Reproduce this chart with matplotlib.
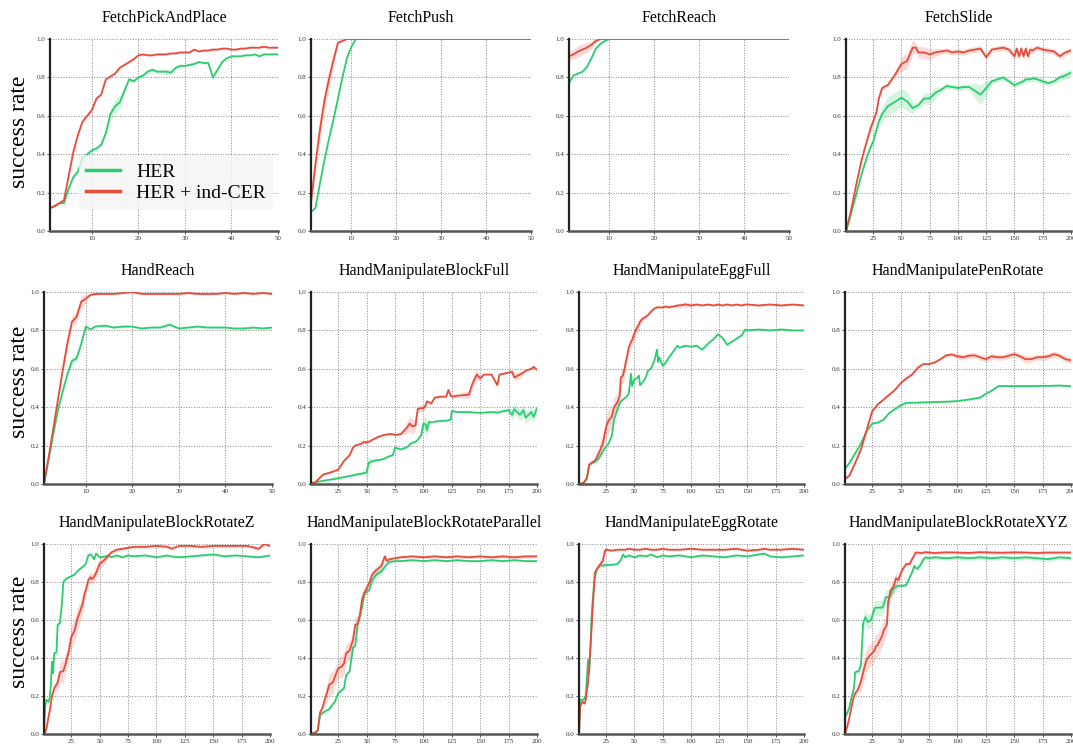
import matplotlib
matplotlib.use('Agg')
import numpy as np
import matplotlib.pyplot as plt

plt.rcParams['font.family'] = ['Liberation Serif', 'DejaVu Serif']

GREEN = '#2ecc71'
RED = '#e74c3c'

titles = ['FetchPickAndPlace', 'FetchPush', 'FetchReach', 'FetchSlide',
          'HandReach', 'HandManipulateBlockFull', 'HandManipulateEggFull', 'HandManipulatePenRotate',
          'HandManipulateBlockRotateZ', 'HandManipulateBlockRotateParallel', 'HandManipulateEggRotate',
          'HandManipulateBlockRotateXYZ']
labels = ['HER', 'HER + ind-CER']

# ---- FetchPickAndPlace
x1 = list(range(1, 51))
her1 = [0.12, 0.13, 0.145, 0.145, 0.22, 0.28, 0.31, 0.38, 0.40, 0.42,
        0.43, 0.45, 0.51, 0.61, 0.65, 0.67, 0.73, 0.79, 0.78, 0.80,
        0.81, 0.83, 0.84, 0.83, 0.83, 0.83, 0.825, 0.85, 0.86, 0.86,
        0.865, 0.87, 0.88, 0.875, 0.875, 0.80, 0.84, 0.88, 0.90, 0.91,
        0.91, 0.91, 0.915, 0.915, 0.92, 0.91, 0.92, 0.92, 0.92, 0.92]
cer1 = [0.12, 0.13, 0.145, 0.16, 0.285, 0.41, 0.50, 0.57, 0.60, 0.63,
        0.69, 0.71, 0.79, 0.805, 0.82, 0.85, 0.865, 0.88, 0.895, 0.915,
        0.92, 0.915, 0.915, 0.92, 0.92, 0.92, 0.925, 0.925, 0.93, 0.93,
        0.93, 0.945, 0.935, 0.94, 0.94, 0.945, 0.945, 0.95, 0.95, 0.945,
        0.945, 0.95, 0.95, 0.955, 0.955, 0.955, 0.96, 0.955, 0.955, 0.955]
her1_sd = [0.005, 0.005, 0.005, 0.005, 0.01, 0.01, 0.01, 0.01, 0.01, 0.01,
           0.01, 0.01, 0.02, 0.03, 0.035, 0.035, 0.02, 0.01, 0.01, 0.01,
           0.01, 0.01, 0.01, 0.01, 0.01, 0.015, 0.015, 0.01, 0.01, 0.005,
           0.005, 0.005, 0.005, 0.005, 0.005, 0.01, 0.01, 0.005, 0.005, 0.005,
           0.005, 0.005, 0.005, 0.005, 0.005, 0.005, 0.005, 0.005, 0.005, 0.005]
cer1_sd = [0.005, 0.005, 0.005, 0.005, 0.005, 0.005, 0.005, 0.005, 0.005, 0.005,
           0.005, 0.005, 0.005, 0.005, 0.005, 0.005, 0.005, 0.005, 0.005, 0.005,
           0.005, 0.005, 0.005, 0.005, 0.005, 0.005, 0.005, 0.005, 0.005, 0.005,
           0.005, 0.005, 0.005, 0.005, 0.005, 0.005, 0.005, 0.005, 0.005, 0.005,
           0.005, 0.005, 0.005, 0.005, 0.005, 0.005, 0.005, 0.005, 0.005, 0.005]

# ---- FetchPush
x2 = [1, 2, 3, 4, 5, 6, 7, 8, 9, 10, 11, 15, 20, 25, 30, 35, 40, 45, 50]
her2 = [0.10, 0.12, 0.25, 0.37, 0.48, 0.58, 0.69, 0.80, 0.90, 0.96, 1.0,
        1.0, 1.0, 1.0, 1.0, 1.0, 1.0, 1.0, 1.0]
cer2 = [0.15, 0.35, 0.53, 0.68, 0.79, 0.89, 0.98, 0.99, 1.0, 1.0, 1.0,
        1.0, 1.0, 1.0, 1.0, 1.0, 1.0, 1.0, 1.0]
her2_sd = [0.005, 0.005, 0.01, 0.01, 0.01, 0.01, 0.01, 0.01, 0.01, 0.005, 0.0,
           0.0, 0.0, 0.0, 0.0, 0.0, 0.0, 0.0, 0.0]
cer2_sd = [0.04, 0.05, 0.06, 0.06, 0.05, 0.04, 0.01, 0.005, 0.0, 0.0, 0.0,
           0.0, 0.0, 0.0, 0.0, 0.0, 0.0, 0.0, 0.0]

# ---- FetchReach
x3 = [1, 2, 3, 4, 5, 6, 7, 8, 9, 10, 11, 15, 20, 25, 30, 35, 40, 45, 50]
her3 = [0.77, 0.81, 0.82, 0.83, 0.855, 0.90, 0.95, 0.975, 0.99, 1.0, 1.0,
        1.0, 1.0, 1.0, 1.0, 1.0, 1.0, 1.0, 1.0]
cer3 = [0.91, 0.92, 0.935, 0.945, 0.955, 0.97, 0.99, 1.0, 1.0, 1.0, 1.0,
        1.0, 1.0, 1.0, 1.0, 1.0, 1.0, 1.0, 1.0]
her3_sd = [0.005, 0.005, 0.005, 0.005, 0.005, 0.005, 0.005, 0.005, 0.0, 0.0, 0.0,
           0.0, 0.0, 0.0, 0.0, 0.0, 0.0, 0.0, 0.0]
cer3_sd = [0.02, 0.025, 0.03, 0.03, 0.025, 0.02, 0.01, 0.0, 0.0, 0.0, 0.0,
           0.0, 0.0, 0.0, 0.0, 0.0, 0.0, 0.0, 0.0]

# ---- FetchSlide
x4 = [1, 5, 10, 15, 20, 23, 25, 28, 30, 33, 38, 45, 50, 55, 60, 63, 65, 70, 75, 80,
      85, 90, 95, 100, 105, 110, 115, 120, 125, 130, 135, 140, 145, 150, 152, 154, 156, 158, 160, 162,
      164, 166, 170, 175, 180, 185, 190, 195, 200]
her4 = [0.0, 0.08, 0.19, 0.30, 0.395, 0.44, 0.465, 0.53, 0.57, 0.61, 0.65, 0.675, 0.695, 0.675, 0.64, 0.65, 0.655, 0.69, 0.69, 0.72,
        0.735, 0.755, 0.75, 0.745, 0.75, 0.75, 0.73, 0.71, 0.745, 0.78, 0.79, 0.80, 0.78, 0.76, 0.765, 0.77, 0.775, 0.78, 0.79, 0.79,
        0.79, 0.795, 0.79, 0.78, 0.77, 0.78, 0.80, 0.81, 0.825]
cer4 = [0.0, 0.095, 0.24, 0.375, 0.48, 0.54, 0.57, 0.62, 0.69, 0.745, 0.76, 0.82, 0.87, 0.885, 0.955, 0.955, 0.93, 0.93, 0.92, 0.93,
        0.935, 0.94, 0.93, 0.935, 0.93, 0.94, 0.945, 0.95, 0.905, 0.945, 0.95, 0.955, 0.945, 0.91, 0.95, 0.91, 0.95, 0.91, 0.95, 0.91,
        0.945, 0.94, 0.955, 0.945, 0.94, 0.935, 0.91, 0.93, 0.94]
her4_sd = [0.005, 0.01, 0.01, 0.01, 0.01, 0.01, 0.015, 0.02, 0.03, 0.04, 0.05, 0.05, 0.05, 0.05, 0.03, 0.02, 0.02, 0.03, 0.03, 0.03,
           0.015, 0.015, 0.015, 0.015, 0.015, 0.015, 0.04, 0.05, 0.04, 0.015, 0.015, 0.015, 0.015, 0.015, 0.015, 0.015, 0.015, 0.015, 0.015, 0.015,
           0.015, 0.015, 0.015, 0.015, 0.015, 0.015, 0.02, 0.02, 0.02]
cer4_sd = [0.005, 0.01, 0.01, 0.01, 0.01, 0.02, 0.02, 0.01, 0.01, 0.01, 0.01, 0.015, 0.04, 0.04, 0.04, 0.02, 0.03, 0.03, 0.03, 0.02,
           0.015, 0.015, 0.015, 0.015, 0.015, 0.015, 0.015, 0.015, 0.015, 0.015, 0.015, 0.015, 0.015, 0.02, 0.02, 0.02, 0.02, 0.02, 0.02, 0.02,
           0.02, 0.015, 0.015, 0.015, 0.015, 0.015, 0.015, 0.015, 0.015]

# ---- HandReach
x5 = [1, 2, 3, 4, 5, 6, 7, 8, 9, 10, 11, 12, 14, 16, 18, 20, 22, 24, 26, 28,
      30, 32, 34, 36, 38, 40, 42, 44, 46, 48, 50]
her5 = [0.0, 0.13, 0.26, 0.385, 0.48, 0.57, 0.64, 0.655, 0.73, 0.82, 0.805, 0.82, 0.825, 0.815, 0.82, 0.82, 0.81, 0.815, 0.815, 0.83,
        0.81, 0.815, 0.82, 0.815, 0.815, 0.815, 0.81, 0.81, 0.815, 0.81, 0.815]
cer5 = [0.0, 0.14, 0.29, 0.44, 0.59, 0.73, 0.845, 0.87, 0.95, 0.965, 0.985, 0.99, 0.99, 0.99, 0.995, 1.0, 0.99, 0.99, 0.99, 0.99,
        0.99, 0.995, 0.99, 0.99, 0.99, 0.995, 0.99, 0.995, 0.99, 0.995, 0.99]
her5_sd = [0.0, 0.005, 0.005, 0.005, 0.005, 0.01, 0.02, 0.02, 0.01, 0.005, 0.005, 0.005, 0.005, 0.005, 0.005, 0.005, 0.005, 0.005, 0.005, 0.005,
           0.005, 0.005, 0.005, 0.005, 0.005, 0.005, 0.005, 0.01, 0.005, 0.005, 0.005]
cer5_sd = [0.0, 0.005, 0.01, 0.01, 0.02, 0.03, 0.03, 0.03, 0.03, 0.02, 0.005, 0.005, 0.005, 0.005, 0.005, 0.005, 0.005, 0.005, 0.005, 0.005,
           0.005, 0.005, 0.005, 0.005, 0.005, 0.005, 0.005, 0.005, 0.005, 0.005, 0.005]

# ---- HandManipulateBlockFull
x6 = [1, 5, 10, 12, 18, 25, 30, 35, 38, 40, 45, 48, 50, 51, 52, 55, 60, 65, 70, 73,
      75, 80, 85, 88, 90, 93, 95, 98, 100, 102, 103, 105, 107, 110, 115, 120, 122, 124, 125, 130,
      140, 143, 147, 150, 153, 160, 165, 167, 175, 178, 180, 185, 188, 190, 195, 197, 200]
her6 = [0.005, 0.01, 0.015, 0.017, 0.023, 0.03, 0.036, 0.042, 0.045, 0.048, 0.054, 0.057, 0.06, 0.09, 0.11, 0.12, 0.125, 0.13, 0.145, 0.15,
        0.19, 0.18, 0.19, 0.205, 0.215, 0.22, 0.23, 0.255, 0.315, 0.31, 0.28, 0.325, 0.32, 0.325, 0.328, 0.33, 0.332, 0.335, 0.38, 0.375,
        0.375, 0.373, 0.372, 0.37, 0.372, 0.375, 0.372, 0.375, 0.385, 0.36, 0.39, 0.36, 0.385, 0.345, 0.375, 0.35, 0.395]
cer6 = [0.0, 0.01, 0.04, 0.05, 0.06, 0.075, 0.12, 0.15, 0.19, 0.20, 0.21, 0.22, 0.215, 0.22, 0.22, 0.23, 0.245, 0.255, 0.26, 0.26,
        0.255, 0.26, 0.29, 0.315, 0.30, 0.305, 0.39, 0.395, 0.395, 0.41, 0.43, 0.425, 0.42, 0.45, 0.455, 0.455, 0.49, 0.46, 0.455, 0.46,
        0.465, 0.52, 0.57, 0.55, 0.57, 0.57, 0.515, 0.57, 0.58, 0.585, 0.555, 0.57, 0.58, 0.59, 0.60, 0.61, 0.595]
her6_sd = [0.005, 0.005, 0.005, 0.005, 0.005, 0.005, 0.005, 0.005, 0.005, 0.005, 0.005, 0.01, 0.04, 0.05, 0.03, 0.01, 0.005, 0.005, 0.005, 0.005,
           0.005, 0.005, 0.005, 0.005, 0.005, 0.005, 0.005, 0.01, 0.03, 0.04, 0.04, 0.01, 0.005, 0.005, 0.005, 0.005, 0.005, 0.005, 0.005, 0.005,
           0.005, 0.005, 0.005, 0.005, 0.005, 0.005, 0.005, 0.005, 0.01, 0.03, 0.03, 0.03, 0.03, 0.03, 0.03, 0.03, 0.02]
cer6_sd = [0.005, 0.005, 0.005, 0.005, 0.005, 0.005, 0.005, 0.005, 0.005, 0.005, 0.005, 0.01, 0.01, 0.01, 0.005, 0.005, 0.005, 0.005, 0.005, 0.005,
           0.005, 0.005, 0.03, 0.04, 0.04, 0.03, 0.02, 0.02, 0.02, 0.01, 0.01, 0.01, 0.01, 0.005, 0.005, 0.005, 0.01, 0.01, 0.01, 0.01,
           0.02, 0.03, 0.03, 0.01, 0.005, 0.005, 0.01, 0.005, 0.005, 0.01, 0.02, 0.02, 0.01, 0.005, 0.005, 0.005, 0.005]

# ---- HandManipulateEggFull
x7 = [1, 5, 8, 10, 13, 15, 18, 20, 22, 25, 27, 30, 32, 35, 37, 38, 40, 43, 45, 47,
      48, 50, 52, 54, 55, 58, 60, 62, 65, 68, 70, 71, 72, 75, 78, 80, 85, 88, 90, 95,
      100, 105, 110, 115, 120, 124, 128, 132, 136, 140, 145, 148, 150, 160, 170, 180, 190, 200]
her7 = [0.0, 0.005, 0.03, 0.10, 0.11, 0.115, 0.13, 0.15, 0.17, 0.195, 0.21, 0.25, 0.335, 0.39, 0.42, 0.43, 0.44, 0.455, 0.47, 0.575,
        0.51, 0.545, 0.55, 0.565, 0.515, 0.535, 0.555, 0.59, 0.605, 0.65, 0.70, 0.635, 0.66, 0.615, 0.635, 0.655, 0.695, 0.72, 0.71, 0.72,
        0.715, 0.72, 0.70, 0.73, 0.755, 0.78, 0.76, 0.725, 0.74, 0.755, 0.775, 0.805, 0.80, 0.805, 0.80, 0.805, 0.80, 0.80]
cer7 = [0.0, 0.005, 0.03, 0.10, 0.115, 0.12, 0.155, 0.18, 0.21, 0.295, 0.33, 0.35, 0.40, 0.425, 0.46, 0.555, 0.565, 0.65, 0.71, 0.74,
        0.75, 0.785, 0.81, 0.83, 0.845, 0.865, 0.87, 0.88, 0.90, 0.915, 0.92, 0.92, 0.92, 0.92, 0.925, 0.92, 0.925, 0.93, 0.93, 0.935,
        0.93, 0.935, 0.93, 0.935, 0.93, 0.935, 0.93, 0.935, 0.93, 0.935, 0.93, 0.935, 0.935, 0.93, 0.935, 0.93, 0.935, 0.93]
her7_sd = [0.0, 0.005, 0.005, 0.005, 0.005, 0.005, 0.005, 0.005, 0.005, 0.005, 0.005, 0.005, 0.005, 0.005, 0.005, 0.005, 0.005, 0.005, 0.005, 0.005,
           0.005, 0.005, 0.005, 0.005, 0.005, 0.005, 0.005, 0.005, 0.005, 0.005, 0.005, 0.005, 0.005, 0.005, 0.005, 0.005, 0.005, 0.005, 0.005, 0.005,
           0.005, 0.005, 0.005, 0.005, 0.005, 0.005, 0.005, 0.005, 0.005, 0.005, 0.005, 0.005, 0.005, 0.005, 0.005, 0.005, 0.005, 0.005]
cer7_sd = [0.0, 0.005, 0.005, 0.005, 0.005, 0.01, 0.03, 0.04, 0.05, 0.06, 0.06, 0.06, 0.05, 0.05, 0.05, 0.04, 0.04, 0.03, 0.03, 0.03,
           0.03, 0.03, 0.03, 0.03, 0.02, 0.01, 0.01, 0.005, 0.005, 0.005, 0.005, 0.005, 0.005, 0.005, 0.005, 0.005, 0.005, 0.01, 0.01, 0.015,
           0.01, 0.005, 0.005, 0.005, 0.005, 0.005, 0.005, 0.005, 0.005, 0.005, 0.005, 0.005, 0.005, 0.005, 0.005, 0.005, 0.005, 0.005]

# ---- HandManipulatePenRotate
x8 = [1, 5, 10, 15, 20, 25, 30, 35, 40, 45, 50, 55, 60, 65, 70, 75, 80, 85, 90, 95,
      100, 105, 110, 115, 120, 125, 130, 136, 140, 145, 150, 155, 160, 165, 170, 175, 180, 185, 190, 195, 200]
her8 = [0.08, 0.11, 0.16, 0.21, 0.275, 0.315, 0.32, 0.335, 0.37, 0.39, 0.41, 0.423, 0.423, 0.424, 0.425, 0.426, 0.427, 0.428, 0.429, 0.43,
        0.432, 0.436, 0.44, 0.445, 0.45, 0.47, 0.485, 0.51, 0.51, 0.51, 0.51, 0.51, 0.51, 0.51, 0.51, 0.511, 0.511, 0.512, 0.513, 0.511, 0.51]
cer8 = [0.025, 0.045, 0.11, 0.18, 0.28, 0.38, 0.415, 0.44, 0.465, 0.49, 0.525, 0.55, 0.57, 0.605, 0.625, 0.625, 0.633, 0.65, 0.67, 0.675,
        0.665, 0.66, 0.668, 0.67, 0.66, 0.65, 0.665, 0.66, 0.66, 0.668, 0.676, 0.665, 0.65, 0.65, 0.66, 0.66, 0.665, 0.676, 0.668, 0.65, 0.645]
her8_sd = [0.005, 0.005, 0.005, 0.005, 0.01, 0.005, 0.005, 0.005, 0.005, 0.005, 0.005, 0.005, 0.005, 0.005, 0.005, 0.005, 0.005, 0.005, 0.005, 0.005,
           0.005, 0.005, 0.005, 0.005, 0.005, 0.005, 0.005, 0.005, 0.005, 0.005, 0.005, 0.005, 0.005, 0.005, 0.005, 0.005, 0.005, 0.005, 0.005, 0.005, 0.005]
cer8_sd = [0.005, 0.005, 0.005, 0.01, 0.02, 0.01, 0.005, 0.005, 0.005, 0.005, 0.005, 0.005, 0.005, 0.005, 0.005, 0.005, 0.005, 0.005, 0.005, 0.01,
           0.015, 0.015, 0.015, 0.015, 0.015, 0.015, 0.015, 0.015, 0.015, 0.015, 0.015, 0.015, 0.02, 0.015, 0.015, 0.015, 0.015, 0.015, 0.015, 0.015, 0.015]

# ---- HandManipulateBlockRotateZ
x9 = [1, 2, 3, 5, 6, 7, 8, 9, 10, 12, 13, 15, 17, 18, 20, 23, 25, 28, 30, 33,
      35, 37, 38, 40, 42, 43, 45, 47, 50, 55, 58, 60, 65, 70, 75, 80, 90, 100, 110, 113,
      120, 130, 140, 150, 160, 170, 180, 190, 195, 200]
her9 = [0.0, 0.145, 0.18, 0.17, 0.19, 0.26, 0.38, 0.32, 0.425, 0.43, 0.575, 0.585, 0.70, 0.80, 0.815, 0.825, 0.83, 0.84, 0.855, 0.87,
        0.88, 0.89, 0.90, 0.94, 0.945, 0.94, 0.92, 0.95, 0.93, 0.935, 0.94, 0.93, 0.94, 0.93, 0.94, 0.935, 0.94, 0.93, 0.94, 0.935,
        0.93, 0.935, 0.94, 0.945, 0.935, 0.94, 0.935, 0.93, 0.935, 0.94]
cer9 = [0.0, 0.01, 0.025, 0.09, 0.12, 0.16, 0.20, 0.22, 0.24, 0.26, 0.27, 0.325, 0.33, 0.33, 0.37, 0.44, 0.51, 0.545, 0.60, 0.65,
        0.685, 0.745, 0.76, 0.81, 0.825, 0.815, 0.825, 0.85, 0.895, 0.92, 0.94, 0.955, 0.97, 0.975, 0.98, 0.985, 0.985, 0.99, 0.985, 0.975,
        0.99, 0.99, 0.985, 0.99, 0.99, 0.99, 0.99, 0.975, 1.0, 0.99]
her9_sd = [0.0, 0.01, 0.01, 0.01, 0.01, 0.01, 0.01, 0.01, 0.01, 0.01, 0.01, 0.01, 0.01, 0.01, 0.005, 0.005, 0.005, 0.005, 0.005, 0.005,
           0.005, 0.005, 0.005, 0.005, 0.005, 0.005, 0.005, 0.005, 0.005, 0.005, 0.005, 0.005, 0.005, 0.005, 0.005, 0.005, 0.005, 0.005, 0.005, 0.005,
           0.005, 0.005, 0.005, 0.005, 0.005, 0.005, 0.005, 0.005, 0.005, 0.005]
cer9_sd = [0.0, 0.01, 0.01, 0.01, 0.01, 0.01, 0.02, 0.02, 0.02, 0.03, 0.04, 0.05, 0.06, 0.06, 0.05, 0.05, 0.06, 0.06, 0.06, 0.05,
           0.05, 0.04, 0.03, 0.03, 0.03, 0.03, 0.03, 0.03, 0.03, 0.02, 0.01, 0.008, 0.008, 0.008, 0.008, 0.008, 0.008, 0.008, 0.008, 0.008,
           0.008, 0.008, 0.008, 0.008, 0.008, 0.008, 0.008, 0.01, 0.01, 0.008]

# ---- HandManipulateBlockRotateParallel
x10 = [1, 5, 7, 9, 11, 13, 15, 17, 20, 22, 25, 28, 30, 32, 35, 38, 40, 42, 44, 46,
       48, 50, 52, 55, 58, 60, 63, 66, 68, 70, 75, 80, 90, 100, 110, 120, 130, 140, 150, 160,
       170, 180, 190, 200]
her10 = [0.0, 0.005, 0.02, 0.10, 0.11, 0.118, 0.125, 0.13, 0.155, 0.17, 0.215, 0.23, 0.24, 0.31, 0.33, 0.455, 0.465, 0.575, 0.615, 0.67,
         0.735, 0.75, 0.755, 0.81, 0.835, 0.845, 0.855, 0.88, 0.895, 0.905, 0.91, 0.91, 0.915, 0.91, 0.915, 0.91, 0.915, 0.91, 0.91, 0.915,
         0.91, 0.915, 0.91, 0.91]
cer10 = [0.0, 0.01, 0.02, 0.115, 0.135, 0.18, 0.215, 0.26, 0.27, 0.30, 0.345, 0.355, 0.37, 0.425, 0.44, 0.495, 0.575, 0.58, 0.625, 0.71,
         0.745, 0.765, 0.79, 0.84, 0.86, 0.87, 0.885, 0.935, 0.91, 0.92, 0.925, 0.93, 0.935, 0.93, 0.935, 0.93, 0.935, 0.93, 0.935, 0.93,
         0.935, 0.93, 0.935, 0.935]
her10_sd = [0.0, 0.005, 0.005, 0.005, 0.005, 0.005, 0.005, 0.005, 0.005, 0.005, 0.005, 0.005, 0.005, 0.005, 0.005, 0.005, 0.005, 0.005, 0.005, 0.005,
            0.005, 0.005, 0.01, 0.02, 0.02, 0.02, 0.02, 0.01, 0.005, 0.005, 0.005, 0.005, 0.005, 0.005, 0.005, 0.005, 0.005, 0.005, 0.005, 0.005,
            0.005, 0.005, 0.005, 0.005]
cer10_sd = [0.0, 0.005, 0.005, 0.01, 0.01, 0.03, 0.05, 0.06, 0.06, 0.05, 0.05, 0.06, 0.06, 0.05, 0.05, 0.05, 0.05, 0.04, 0.04, 0.03,
            0.03, 0.03, 0.03, 0.02, 0.02, 0.02, 0.02, 0.02, 0.01, 0.008, 0.008, 0.008, 0.008, 0.008, 0.008, 0.008, 0.008, 0.008, 0.008, 0.008,
            0.008, 0.008, 0.008, 0.008]

# ---- HandManipulateEggRotate
x11 = [1, 2, 4, 5, 6, 7, 8, 9, 10, 11, 12, 13, 15, 17, 20, 22, 24, 25, 30, 35,
       38, 40, 42, 45, 50, 55, 60, 65, 70, 75, 80, 90, 100, 110, 120, 130, 140, 150, 160, 165,
       170, 180, 190, 200]
her11 = [0.0, 0.18, 0.18, 0.18, 0.19, 0.205, 0.30, 0.39, 0.32, 0.425, 0.60, 0.70, 0.825, 0.87, 0.89, 0.885, 0.89, 0.89, 0.89, 0.895,
         0.915, 0.945, 0.93, 0.94, 0.93, 0.94, 0.935, 0.945, 0.93, 0.94, 0.935, 0.94, 0.93, 0.94, 0.935, 0.93, 0.94, 0.935, 0.945, 0.95,
         0.935, 0.93, 0.935, 0.94]
cer11 = [0.0, 0.145, 0.17, 0.165, 0.16, 0.18, 0.23, 0.27, 0.355, 0.45, 0.54, 0.65, 0.85, 0.87, 0.895, 0.91, 0.965, 0.97, 0.965, 0.97,
         0.97, 0.97, 0.97, 0.975, 0.97, 0.97, 0.975, 0.97, 0.97, 0.975, 0.97, 0.97, 0.975, 0.97, 0.97, 0.97, 0.975, 0.965, 0.97, 0.975,
         0.97, 0.97, 0.975, 0.97]
her11_sd = [0.0, 0.005, 0.005, 0.005, 0.005, 0.005, 0.005, 0.005, 0.005, 0.005, 0.005, 0.005, 0.005, 0.005, 0.005, 0.005, 0.005, 0.005, 0.005, 0.005,
            0.005, 0.005, 0.005, 0.005, 0.005, 0.005, 0.005, 0.005, 0.005, 0.005, 0.005, 0.005, 0.005, 0.005, 0.005, 0.005, 0.005, 0.005, 0.005, 0.005,
            0.005, 0.005, 0.005, 0.005]
cer11_sd = [0.0, 0.005, 0.005, 0.005, 0.005, 0.005, 0.005, 0.005, 0.005, 0.005, 0.005, 0.005, 0.005, 0.01, 0.02, 0.02, 0.01, 0.005, 0.005, 0.005,
            0.005, 0.005, 0.005, 0.005, 0.005, 0.005, 0.005, 0.005, 0.005, 0.005, 0.005, 0.005, 0.005, 0.005, 0.005, 0.005, 0.005, 0.005, 0.005, 0.005,
            0.005, 0.005, 0.005, 0.005]

# ---- HandManipulateBlockRotateXYZ
x12 = [1, 3, 5, 7, 8, 9, 10, 12, 13, 15, 17, 19, 20, 21, 24, 25, 27, 28, 30, 31,
       34, 35, 37, 38, 39, 40, 41, 43, 44, 46, 48, 50, 52, 55, 58, 60, 62, 63, 65, 68,
       70, 72, 75, 80, 90, 100, 110, 120, 130, 140, 150, 160, 170, 180, 190, 200]
her12 = [0.09, 0.11, 0.145, 0.20, 0.22, 0.25, 0.325, 0.33, 0.33, 0.36, 0.585, 0.615, 0.60, 0.59, 0.60, 0.62, 0.66, 0.665, 0.665, 0.665,
         0.665, 0.68, 0.72, 0.72, 0.72, 0.72, 0.73, 0.76, 0.765, 0.775, 0.78, 0.78, 0.78, 0.785, 0.825, 0.85, 0.885, 0.875, 0.87, 0.895,
         0.92, 0.93, 0.925, 0.93, 0.925, 0.93, 0.925, 0.93, 0.925, 0.93, 0.925, 0.93, 0.925, 0.92, 0.93, 0.925]
cer12 = [0.0, 0.04, 0.09, 0.15, 0.18, 0.20, 0.215, 0.23, 0.245, 0.275, 0.325, 0.37, 0.39, 0.40, 0.42, 0.425, 0.44, 0.46, 0.47, 0.485,
         0.52, 0.545, 0.565, 0.58, 0.695, 0.72, 0.755, 0.77, 0.78, 0.82, 0.81, 0.845, 0.87, 0.895, 0.895, 0.92, 0.94, 0.955, 0.955, 0.952,
         0.955, 0.957, 0.955, 0.953, 0.956, 0.955, 0.953, 0.957, 0.955, 0.954, 0.956, 0.955, 0.953, 0.955, 0.955, 0.955]
her12_sd = [0.005, 0.01, 0.01, 0.01, 0.01, 0.01, 0.01, 0.01, 0.02, 0.03, 0.04, 0.04, 0.04, 0.04, 0.04, 0.04, 0.04, 0.04, 0.04, 0.04,
            0.04, 0.04, 0.04, 0.04, 0.04, 0.04, 0.03, 0.03, 0.03, 0.02, 0.01, 0.01, 0.01, 0.01, 0.01, 0.01, 0.01, 0.01, 0.01, 0.01,
            0.012, 0.012, 0.012, 0.012, 0.012, 0.012, 0.012, 0.012, 0.012, 0.012, 0.012, 0.012, 0.012, 0.012, 0.012, 0.012]
cer12_sd = [0.0, 0.005, 0.005, 0.01, 0.01, 0.01, 0.01, 0.02, 0.03, 0.05, 0.06, 0.06, 0.06, 0.06, 0.06, 0.06, 0.06, 0.06, 0.06, 0.06,
            0.06, 0.06, 0.05, 0.05, 0.04, 0.04, 0.04, 0.04, 0.04, 0.03, 0.02, 0.02, 0.01, 0.01, 0.01, 0.01, 0.008, 0.008, 0.008, 0.008,
            0.008, 0.008, 0.008, 0.008, 0.008, 0.008, 0.008, 0.008, 0.008, 0.008, 0.008, 0.008, 0.008, 0.008, 0.008, 0.008]

panels = [
    (x1, her1, her1_sd, cer1, cer1_sd), (x2, her2, her2_sd, cer2, cer2_sd),
    (x3, her3, her3_sd, cer3, cer3_sd), (x4, her4, her4_sd, cer4, cer4_sd),
    (x5, her5, her5_sd, cer5, cer5_sd), (x6, her6, her6_sd, cer6, cer6_sd),
    (x7, her7, her7_sd, cer7, cer7_sd), (x8, her8, her8_sd, cer8, cer8_sd),
    (x9, her9, her9_sd, cer9, cer9_sd), (x10, her10, her10_sd, cer10, cer10_sd),
    (x11, her11, her11_sd, cer11, cer11_sd), (x12, her12, her12_sd, cer12, cer12_sd),
]

W, H = 1073, 744
# axes boxes in pixels: left, top, right, bottom
boxes = [
    (50, 39, 278, 231), (311, 39, 531, 231), (569, 39, 789, 231), (846, 39, 1071, 231),
    (44, 292, 272, 484), (311, 292, 537, 484), (579, 292, 804, 484), (845, 292, 1071, 484),
    (44, 544, 270, 734), (311, 544, 537, 734), (579, 544, 804, 734), (845, 544, 1071, 734),
]

fig = plt.figure(figsize=(W / 100, H / 100), dpi=100)

for i, (name, data, box) in enumerate(zip(titles, panels, boxes)):
    l, t, r, b = box
    ax = fig.add_axes([l / W, 1 - b / H, (r - l) / W, (b - t) / H])
    x, her, her_sd, cer, cer_sd = [np.array(d, dtype=float) for d in data]

    ax.fill_between(x, her - her_sd, her + her_sd, color=GREEN, alpha=0.2, lw=0)
    ax.fill_between(x, cer - cer_sd, cer + cer_sd, color=RED, alpha=0.2, lw=0)
    ax.plot(x, her, color=GREEN, lw=1.3, label=labels[0])
    ax.plot(x, cer, color=RED, lw=1.3, label=labels[1])

    xmax = x[-1]
    ax.set_xlim(1, xmax)
    ax.set_ylim(0, 1.0)
    if xmax == 50:
        ax.set_xticks([10, 20, 30, 40, 50])
    else:
        ax.set_xticks([25, 50, 75, 100, 125, 150, 175, 200])
    ax.set_yticks([0.0, 0.2, 0.4, 0.6, 0.8, 1.0])
    ax.set_yticklabels(['0.0', '0.2', '0.4', '0.6', '0.8', '1.0'])

    ax.grid(True, ls=':', color='#888888', lw=0.7)
    ax.set_axisbelow(True)
    for s in ['top', 'right']:
        ax.spines[s].set_visible(False)
    ax.spines['left'].set_linewidth(1.6)
    ax.spines['left'].set_color('#222222')
    ax.spines['bottom'].set_linewidth(1.8)
    ax.spines['bottom'].set_color('#555555')
    ax.tick_params(labelsize=5, length=2, width=0.6, colors='#333333', pad=1.5)

    ax.set_title(name, fontsize=11.5, pad=12)

    if i == 0:
        leg = ax.legend(loc='lower right', bbox_to_anchor=(0.98, 0.11), borderaxespad=0,
                        fontsize=14, handlelength=1.75, labelspacing=0.2,
                        frameon=True, facecolor='#f4f4f4', edgecolor='none', framealpha=0.8,
                        borderpad=0.4, handletextpad=0.8)
        for h in leg.get_lines():
            h.set_linewidth(2.5)

for yc in [132, 382, 632]:
    fig.text(20 / W, 1 - yc / H, 'success rate', rotation=90, ha='center', va='center', fontsize=17)

fig.savefig('out.png', dpi=100)
